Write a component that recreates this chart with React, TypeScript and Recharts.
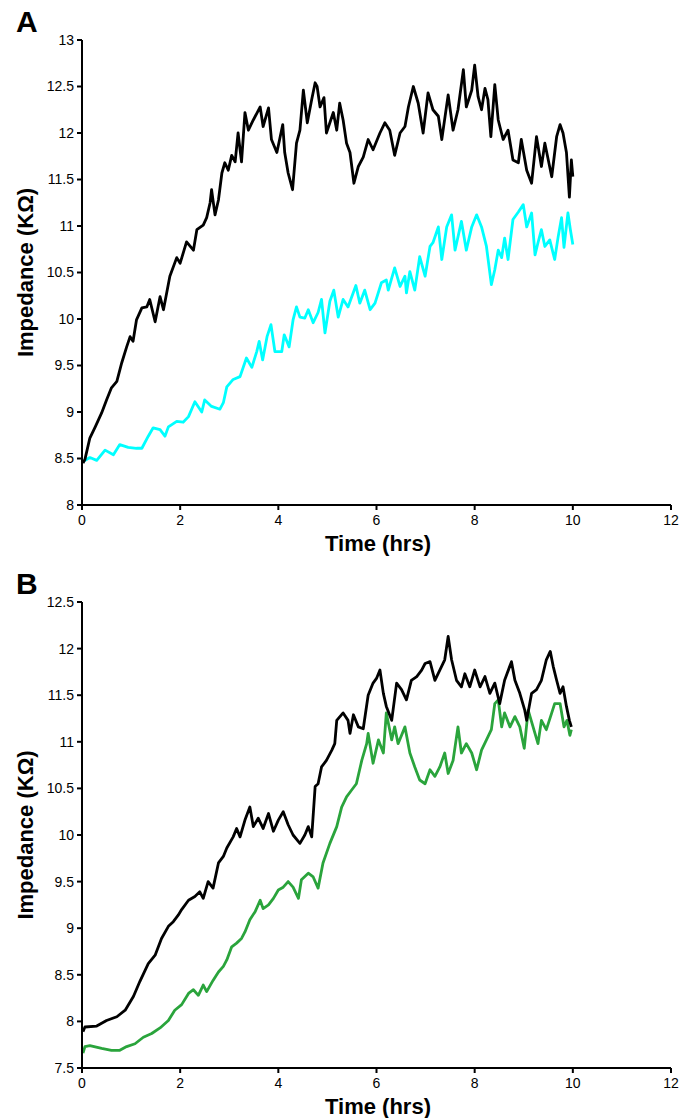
import { LineChart, Line, XAxis, YAxis } from "recharts";

const timeTicks = [0, 2, 4, 6, 8, 10, 12];
const ticksA = [8, 8.5, 9, 9.5, 10, 10.5, 11, 11.5, 12, 12.5, 13];
const ticksB = [7.5, 8, 8.5, 9, 9.5, 10, 10.5, 11, 11.5, 12, 12.5];

// [hours, kOhm]
const aBlack: [number, number][] = [
  [0.02, 8.45], [0.06, 8.49], [0.16, 8.72], [0.27, 8.84], [0.4, 8.99], [0.5, 9.13], [0.6, 9.26],
  [0.71, 9.33], [0.81, 9.53], [0.91, 9.7], [0.98, 9.81], [1.04, 9.76], [1.11, 9.99], [1.22, 10.12],
  [1.32, 10.13], [1.38, 10.21], [1.49, 9.97], [1.59, 10.24], [1.66, 10.1], [1.79, 10.46], [1.93, 10.66],
  [2.0, 10.6], [2.13, 10.83], [2.27, 10.74], [2.34, 10.96], [2.47, 11.01], [2.54, 11.09], [2.61, 11.25],
  [2.64, 11.39], [2.71, 11.12], [2.78, 11.28], [2.85, 11.57], [2.91, 11.68], [2.98, 11.6], [3.05, 11.76],
  [3.12, 11.69], [3.18, 12.0], [3.25, 11.69], [3.32, 12.22], [3.39, 12.03], [3.49, 12.14], [3.63, 12.28],
  [3.69, 12.07], [3.8, 12.27], [3.86, 11.93], [3.97, 11.79], [4.09, 12.09], [4.13, 11.79], [4.2, 11.57],
  [4.29, 11.39], [4.37, 11.89], [4.44, 12.03], [4.51, 12.46], [4.59, 12.11], [4.68, 12.36], [4.75, 12.54],
  [4.79, 12.5], [4.85, 12.28], [4.93, 12.38], [4.98, 12.0], [5.12, 12.22], [5.19, 12.03], [5.25, 12.32],
  [5.32, 12.14], [5.39, 11.89], [5.46, 11.79], [5.54, 11.46], [5.63, 11.64], [5.73, 11.74], [5.83, 11.93],
  [5.93, 11.82], [6.07, 12.0], [6.17, 12.11], [6.27, 12.03], [6.37, 11.76], [6.48, 12.0], [6.58, 12.07],
  [6.65, 12.28], [6.75, 12.5], [6.85, 12.32], [6.95, 12.0], [7.05, 12.43], [7.15, 12.25], [7.26, 12.18],
  [7.33, 11.93], [7.46, 12.41], [7.56, 12.03], [7.66, 12.25], [7.77, 12.68], [7.83, 12.28], [7.94, 12.46],
  [8.0, 12.73], [8.07, 12.39], [8.14, 12.25], [8.21, 12.48], [8.27, 12.36], [8.33, 11.96], [8.41, 12.52],
  [8.48, 12.14], [8.58, 11.93], [8.68, 12.03], [8.78, 11.71], [8.89, 11.68], [8.95, 11.93], [9.06, 11.6],
  [9.16, 11.46], [9.26, 11.96], [9.36, 11.64], [9.43, 11.89], [9.57, 11.53], [9.67, 11.96], [9.74, 12.09],
  [9.8, 12.0], [9.87, 11.79], [9.93, 11.31], [9.97, 11.71], [10.0, 11.53],
];

const aCyan: [number, number][] = [
  [0.03, 8.47], [0.16, 8.51], [0.3, 8.48], [0.47, 8.59], [0.64, 8.54], [0.77, 8.65], [0.94, 8.62],
  [1.11, 8.61], [1.22, 8.61], [1.35, 8.74], [1.45, 8.83], [1.59, 8.81], [1.69, 8.74], [1.76, 8.84],
  [1.93, 8.9], [2.06, 8.89], [2.17, 8.95], [2.3, 9.11], [2.44, 9.0], [2.5, 9.13], [2.64, 9.06],
  [2.81, 9.03], [2.88, 9.1], [2.95, 9.27], [3.08, 9.35], [3.22, 9.38], [3.35, 9.58], [3.46, 9.48],
  [3.56, 9.65], [3.61, 9.76], [3.68, 9.56], [3.77, 9.81], [3.85, 9.94], [3.93, 9.65], [4.07, 9.65],
  [4.12, 9.83], [4.22, 9.7], [4.3, 9.99], [4.37, 10.13], [4.44, 10.02], [4.54, 10.01], [4.61, 10.1],
  [4.71, 9.96], [4.81, 10.07], [4.88, 10.21], [4.95, 9.85], [5.05, 10.19], [5.13, 10.31], [5.22, 10.02],
  [5.32, 10.21], [5.42, 10.13], [5.58, 10.36], [5.66, 10.17], [5.76, 10.31], [5.87, 10.1], [5.97, 10.17],
  [6.1, 10.39], [6.2, 10.42], [6.24, 10.31], [6.37, 10.55], [6.48, 10.35], [6.58, 10.46], [6.61, 10.28],
  [6.68, 10.51], [6.78, 10.31], [6.88, 10.67], [6.99, 10.46], [7.09, 10.78], [7.15, 10.82], [7.26, 10.99],
  [7.33, 10.64], [7.43, 10.99], [7.53, 11.12], [7.6, 10.74], [7.73, 11.05], [7.83, 10.74], [7.94, 10.99],
  [8.04, 11.12], [8.14, 10.99], [8.24, 10.78], [8.34, 10.37], [8.41, 10.53], [8.48, 10.74], [8.55, 10.66],
  [8.61, 10.87], [8.68, 10.64], [8.78, 11.07], [8.89, 11.15], [8.99, 11.23], [9.06, 10.99], [9.16, 11.14],
  [9.23, 10.69], [9.29, 10.82], [9.36, 10.96], [9.43, 10.78], [9.53, 10.85], [9.63, 10.64], [9.7, 10.88],
  [9.77, 11.09], [9.82, 10.77], [9.9, 11.14], [9.95, 10.96], [10.0, 10.8],
];

const bBlack: [number, number][] = [
  [0.02, 7.89], [0.06, 7.94], [0.3, 7.95], [0.5, 8.01], [0.71, 8.05], [0.88, 8.12], [1.05, 8.27],
  [1.18, 8.43], [1.35, 8.62], [1.49, 8.71], [1.62, 8.89], [1.76, 9.02], [1.86, 9.07], [1.96, 9.14],
  [2.03, 9.2], [2.17, 9.3], [2.3, 9.34], [2.4, 9.39], [2.47, 9.32], [2.57, 9.5], [2.67, 9.43],
  [2.78, 9.7], [2.88, 9.77], [2.95, 9.86], [3.08, 9.98], [3.15, 10.07], [3.22, 9.98], [3.32, 10.16],
  [3.42, 10.3], [3.49, 10.09], [3.59, 10.18], [3.69, 10.07], [3.8, 10.23], [3.9, 10.04], [4.0, 10.16],
  [4.1, 10.25], [4.2, 10.11], [4.3, 10.0], [4.44, 9.91], [4.54, 10.0], [4.61, 10.09], [4.68, 9.98],
  [4.75, 10.52], [4.81, 10.55], [4.88, 10.73], [4.98, 10.8], [5.09, 10.91], [5.15, 10.98], [5.19, 11.23],
  [5.32, 11.31], [5.42, 11.23], [5.46, 11.09], [5.53, 11.29], [5.63, 11.16], [5.73, 11.14], [5.83, 11.5],
  [5.93, 11.63], [6.0, 11.68], [6.07, 11.77], [6.14, 11.52], [6.2, 11.38], [6.31, 11.23], [6.41, 11.63],
  [6.51, 11.56], [6.61, 11.45], [6.71, 11.66], [6.82, 11.7], [6.92, 11.77], [6.99, 11.84], [7.09, 11.86],
  [7.19, 11.66], [7.29, 11.77], [7.39, 11.88], [7.46, 12.13], [7.53, 11.88], [7.63, 11.66], [7.73, 11.59],
  [7.8, 11.73], [7.9, 11.59], [8.0, 11.77], [8.11, 11.59], [8.21, 11.7], [8.31, 11.52], [8.41, 11.63],
  [8.51, 11.41], [8.61, 11.66], [8.75, 11.86], [8.82, 11.66], [8.92, 11.52], [9.02, 11.34], [9.06, 11.23],
  [9.16, 11.52], [9.26, 11.56], [9.36, 11.66], [9.46, 11.88], [9.54, 11.97], [9.6, 11.81], [9.67, 11.66],
  [9.74, 11.52], [9.8, 11.59], [9.87, 11.38], [9.93, 11.23], [9.97, 11.16],
];

const bGreen: [number, number][] = [
  [0.02, 7.66], [0.06, 7.73], [0.16, 7.74], [0.4, 7.71], [0.6, 7.69], [0.77, 7.69], [0.91, 7.73],
  [1.08, 7.76], [1.25, 7.83], [1.42, 7.87], [1.59, 7.93], [1.76, 8.01], [1.89, 8.12], [2.03, 8.18],
  [2.17, 8.3], [2.27, 8.34], [2.37, 8.28], [2.47, 8.39], [2.54, 8.32], [2.67, 8.44], [2.78, 8.53],
  [2.88, 8.59], [2.95, 8.66], [3.05, 8.8], [3.15, 8.84], [3.25, 8.89], [3.32, 8.96], [3.42, 9.09],
  [3.53, 9.18], [3.63, 9.3], [3.69, 9.21], [3.8, 9.25], [3.9, 9.32], [4.0, 9.41], [4.1, 9.44],
  [4.2, 9.5], [4.3, 9.44], [4.41, 9.32], [4.47, 9.52], [4.61, 9.59], [4.71, 9.55], [4.81, 9.43],
  [4.91, 9.7], [5.05, 9.91], [5.19, 10.09], [5.29, 10.3], [5.39, 10.41], [5.49, 10.48], [5.59, 10.55],
  [5.7, 10.8], [5.8, 10.98], [5.83, 11.09], [5.93, 10.77], [6.04, 11.02], [6.14, 10.88], [6.2, 11.31],
  [6.31, 11.02], [6.37, 11.16], [6.44, 10.98], [6.58, 11.16], [6.68, 10.88], [6.78, 10.73], [6.88, 10.59],
  [6.99, 10.55], [7.09, 10.7], [7.19, 10.63], [7.29, 10.73], [7.39, 10.88], [7.46, 10.66], [7.56, 10.8],
  [7.66, 11.16], [7.73, 10.88], [7.83, 10.98], [7.94, 10.88], [8.04, 10.7], [8.14, 10.91], [8.24, 11.02],
  [8.34, 11.13], [8.41, 11.41], [8.48, 11.45], [8.55, 11.16], [8.61, 11.31], [8.72, 11.16], [8.82, 11.27],
  [8.92, 11.16], [9.01, 10.93], [9.09, 11.34], [9.19, 11.16], [9.29, 10.98], [9.36, 11.23], [9.46, 11.13],
  [9.57, 11.31], [9.63, 11.41], [9.74, 11.41], [9.82, 11.16], [9.88, 11.23], [9.94, 11.07], [9.97, 11.13],
];

const FONT = "'Liberation Sans', Arial, sans-serif";
const tickStyle = { fontSize: 14, fill: "#000", fontFamily: FONT };
const axisStroke = { stroke: "#000", strokeWidth: 2 };

const rows = (pts: [number, number][]) => pts.map(([t, v]) => ({ t, v }));

function Panel({
  height,
  bottom,
  yTicks,
  series,
}: {
  height: number;
  bottom: number;
  yTicks: number[];
  series: { pts: [number, number][]; color: string }[];
}) {
  return (
    <LineChart width={680} height={height} margin={{ top: 40, right: 9, left: 0, bottom }}>
      <XAxis
        type="number"
        dataKey="t"
        domain={[0, 12]}
        ticks={timeTicks}
        allowDuplicatedCategory={false}
        tick={tickStyle}
        axisLine={axisStroke}
        tickLine={axisStroke}
        tickSize={5}
        tickMargin={5}
        height={30}
      />
      <YAxis
        type="number"
        domain={[yTicks[0], yTicks[yTicks.length - 1]]}
        ticks={yTicks}
        tick={tickStyle}
        axisLine={axisStroke}
        tickLine={axisStroke}
        tickSize={5}
        tickMargin={3}
        width={82}
        interval={0}
      />
      {series.map((s, i) => (
        <Line
          key={i}
          data={rows(s.pts)}
          dataKey="v"
          type="linear"
          stroke={s.color}
          strokeWidth={2.8}
          strokeLinejoin="round"
          dot={false}
          activeDot={false}
          isAnimationActive={false}
        />
      ))}
    </LineChart>
  );
}

const titleStyle = { fontFamily: FONT, fontWeight: 700, fontSize: 22, fill: "#000" };
const letterStyle = { fontFamily: FONT, fontWeight: 700, fontSize: 30, fill: "#000" };

export default function App() {
  return (
    <div style={{ position: "absolute", left: 0, top: 0, width: 680, height: 1118, background: "#fff" }}>
      <div style={{ position: "absolute", left: 0, top: 0 }}>
        <Panel
          height={562}
          bottom={27}
          yTicks={ticksA}
          series={[
            { pts: aCyan, color: "#00FFFF" },
            { pts: aBlack, color: "#000000" },
          ]}
        />
      </div>
      <div style={{ position: "absolute", left: 0, top: 562 }}>
        <Panel
          height={556}
          bottom={20}
          yTicks={ticksB}
          series={[
            { pts: bGreen, color: "#2AA43C" },
            { pts: bBlack, color: "#000000" },
          ]}
        />
      </div>
      <svg
        width={680}
        height={1118}
        style={{ position: "absolute", left: 0, top: 0, pointerEvents: "none" }}
      >
        <text x={16} y={32} style={letterStyle}>A</text>
        <text x={16} y={594} style={letterStyle}>B</text>
        <text
          x={25}
          y={272.5}
          textAnchor="middle"
          dominantBaseline="central"
          transform="rotate(-90 25 272.5)"
          style={titleStyle}
        >
          Impedance (KΩ)
        </text>
        <text
          x={25}
          y={835}
          textAnchor="middle"
          dominantBaseline="central"
          transform="rotate(-90 25 835)"
          style={titleStyle}
        >
          Impedance (KΩ)
        </text>
        <text x={378} y={551} textAnchor="middle" style={titleStyle}>Time (hrs)</text>
        <text x={378} y={1114} textAnchor="middle" style={titleStyle}>Time (hrs)</text>
      </svg>
    </div>
  );
}
